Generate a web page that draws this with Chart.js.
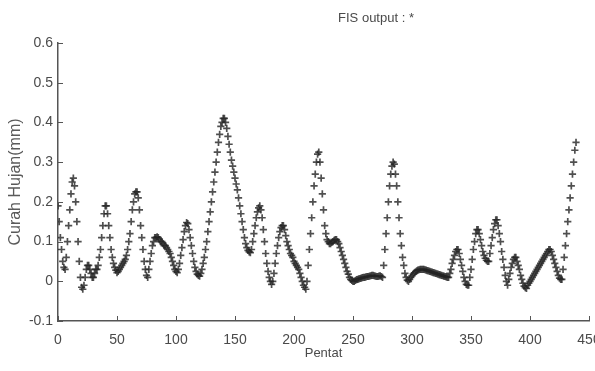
<!DOCTYPE html>
<html>
<head>
<meta charset="utf-8">
<script src="https://cdn.jsdelivr.net/npm/chart.js@4/dist/chart.umd.min.js"></script>
<style>
html,body{margin:0;padding:0;background:#fff;overflow:hidden;width:595px;height:371px;}
#wrap{width:620px;height:371px;}
</style>
</head>
<body>
<div id="wrap"><canvas id="c" width="620" height="371"></canvas></div>
<script>
const titleText = "FIS output : *";
const xTitle = "Pentat";
const yTitle = "Curah Hujan(mm)";
const xTicks = [0, 50, 100, 150, 200, 250, 300, 350, 400, 450];
const yTicks = [-0.1, 0, 0.1, 0.2, 0.3, 0.4, 0.5, 0.6];
// FIS output per pentad (index = pentad number, 0..439)
const rainfall = [
  0.19,0.15,0.11,0.08,0.05,0.035,0.03,0.06,0.10,0.14,0.18,0.22,0.25,0.26,0.24,0.20,0.15,0.10,0.05,0.01,-0.015,-0.02,
  -0.01,0.01,0.03,0.04,0.04,0.03,0.02,0.01,0.01,0.02,0.03,0.03,
  0.04,0.06,0.08,0.11,0.14,0.17,0.19,0.19,
  0.17,0.14,0.11,0.08,0.06,0.045,0.035,0.028,0.022,
  0.025,0.03,0.035,0.04,0.045,0.05,0.055,0.065,0.08,0.10,
  0.12,0.15,0.18,0.20,0.22,0.225,0.225,
  0.21,0.18,0.14,0.11,0.08,0.05,0.03,0.015,0.01,
  0.03,0.05,0.07,0.09,0.10,0.11,0.11,0.112,
  0.11,0.105,0.10,0.10,0.095,0.09,0.09,0.085,0.08,0.075,0.07,0.06,0.05,0.04,0.03,0.025,0.022,
  0.03,0.045,0.065,0.085,0.105,0.125,0.14,0.148,0.145,
  0.13,0.11,0.09,0.07,0.05,0.035,0.025,0.018,0.015,0.013,
  0.02,0.03,0.045,0.06,0.08,0.10,0.125,0.15,0.175,0.20,0.225,0.25,0.275,0.30,0.325,0.35,0.37,0.39,0.40,0.41,0.41,
  0.40,0.385,0.365,0.345,0.325,0.305,0.29,0.275,0.26,0.245,0.23,0.21,0.19,0.17,0.15,0.13,0.11,0.095,0.085,0.078,0.074,0.072,
  0.08,0.10,0.12,0.14,0.16,0.175,0.185,0.19,
  0.18,0.16,0.13,0.10,0.07,0.045,0.025,0.01,0.0,-0.008,
  0.0,0.02,0.045,0.07,0.09,0.11,0.125,0.135,0.14,0.14,
  0.13,0.115,0.10,0.09,0.08,0.07,0.065,0.06,0.05,0.045,0.04,0.035,0.03,0.02,0.01,0.0,-0.01,-0.015,-0.02,
  0.0,0.04,0.08,0.12,0.16,0.20,0.24,0.27,0.30,0.32,0.325,
  0.30,0.26,0.22,0.18,0.14,0.12,0.105,0.10,0.095,0.095,
  0.098,0.10,0.103,0.105,0.105,0.10,0.095,0.085,0.075,
  0.065,0.055,0.045,0.035,0.025,0.018,0.01,0.005,0.002,0.0,
  0.0,0.002,0.004,0.005,0.006,0.007,0.008,0.009,0.01,0.01,0.011,0.012,0.012,0.013,0.014,0.015,0.015,0.014,0.013,0.012,0.012,0.013,0.014,0.012,0.01,
  0.04,0.08,0.12,0.16,0.20,0.24,0.27,0.29,0.30,0.295,
  0.27,0.24,0.20,0.16,0.12,0.09,0.06,0.04,0.02,0.01,0.003,0.0,
  0.005,0.01,0.014,0.018,0.021,0.024,0.026,0.028,0.029,0.03,0.03,0.03,0.03,0.029,0.028,0.027,0.026,0.025,0.024,0.023,0.022,0.021,0.02,0.019,0.018,0.017,0.016,0.015,0.014,0.013,0.012,0.011,0.01,0.01,
  0.02,0.03,0.045,0.055,0.065,0.075,0.08,0.08,
  0.07,0.055,0.04,0.025,0.01,0.0,-0.008,-0.01,-0.01,
  0.01,0.03,0.055,0.08,0.10,0.12,0.13,0.13,
  0.12,0.105,0.09,0.075,0.065,0.058,0.053,0.05,0.05,
  0.07,0.09,0.11,0.13,0.145,0.155,0.155,
  0.14,0.12,0.10,0.075,0.055,0.035,0.015,0.0,-0.01,
  0.005,0.02,0.035,0.045,0.055,0.06,0.06,
  0.05,0.04,0.03,0.015,0.005,-0.005,-0.012,-0.016,-0.018,
  -0.01,-0.005,0.0,0.005,0.01,0.015,0.02,0.025,0.03,0.035,0.04,0.045,0.05,0.055,0.06,0.065,0.07,0.075,0.08,0.08,
  0.075,0.065,0.055,0.045,0.035,0.025,0.015,0.008,0.005,0.005,
  0.03,0.06,0.09,0.12,0.15,0.18,0.21,0.24,0.27,0.30,0.33,0.35
];

const FONT = "'Liberation Sans',Arial,sans-serif";
const AXIS = '#555';
const TEXT = '#4a4a4a';

const innerTicks = {
  id: 'innerTicks',
  afterDraw(chart) {
    const {ctx, chartArea: a, scales: {x, y}} = chart;
    ctx.save();
    ctx.strokeStyle = AXIS;
    ctx.lineWidth = 1;
    xTicks.forEach(v => {
      const p = Math.round(x.getPixelForValue(v)) + 0.5;
      ctx.beginPath(); ctx.moveTo(p, a.bottom); ctx.lineTo(p, a.bottom - 5); ctx.stroke();
    });
    yTicks.forEach(v => {
      const p = Math.round(y.getPixelForValue(v)) + 0.5;
      ctx.beginPath(); ctx.moveTo(a.left, p); ctx.lineTo(a.left + 5, p); ctx.stroke();
    });
    ctx.fillStyle = TEXT;
    ctx.font = "13px " + FONT;
    ctx.textAlign = 'center';
    ctx.textBaseline = 'middle';
    ctx.fillText(titleText, 376, 18);
    ctx.restore();
  }
};

new Chart(document.getElementById('c'), {
  type: 'scatter',
  data: {
    datasets: [{
      data: rainfall.map((v, i) => ({x: i, y: v})),
      pointStyle: 'cross',
      pointRadius: 3.6,
      pointBorderWidth: 1.7,
      borderColor: 'rgba(35,35,35,0.8)',
      backgroundColor: 'rgba(35,35,35,0.8)',
      showLine: false
    }]
  },
  options: {
    responsive: false,
    animation: false,
    devicePixelRatio: 1,
    layout: {padding: {top: 43, right: 31, left: 0, bottom: 0}},
    plugins: {legend: {display: false}, tooltip: {enabled: false}, title: {display: false}},
    scales: {
      x: {
        type: 'linear', min: 0, max: 450,
        afterBuildTicks(s) { s.ticks = xTicks.map(v => ({value: v})); },
        afterFit(s) { s.height = 50; },
        grid: {display: true, drawOnChartArea: false, drawTicks: false},
        border: {display: true, color: AXIS, width: 1.5},
        ticks: {color: TEXT, font: {family: FONT, size: 14}, padding: 11, maxRotation: 0},
        title: {display: true, text: xTitle, color: TEXT, font: {family: FONT, size: 13}, padding: {top: 0, bottom: 10}}
      },
      y: {
        type: 'linear', min: -0.1, max: 0.6,
        afterBuildTicks(s) { s.ticks = yTicks.map(v => ({value: v})); },
        afterFit(s) { s.width = 58; },
        grid: {display: true, drawOnChartArea: false, drawTicks: false},
        border: {display: true, color: AXIS, width: 1.5},
        ticks: {color: TEXT, font: {family: FONT, size: 14}, padding: 5,
          callback: v => (Math.round(v * 10) / 10).toString()},
        title: {display: true, text: yTitle, color: '#5a5a5a', font: {family: FONT, size: 16}, padding: {top: 6, bottom: 0}}
      }
    }
  },
  plugins: [innerTicks]
});
</script>
</body>
</html>
